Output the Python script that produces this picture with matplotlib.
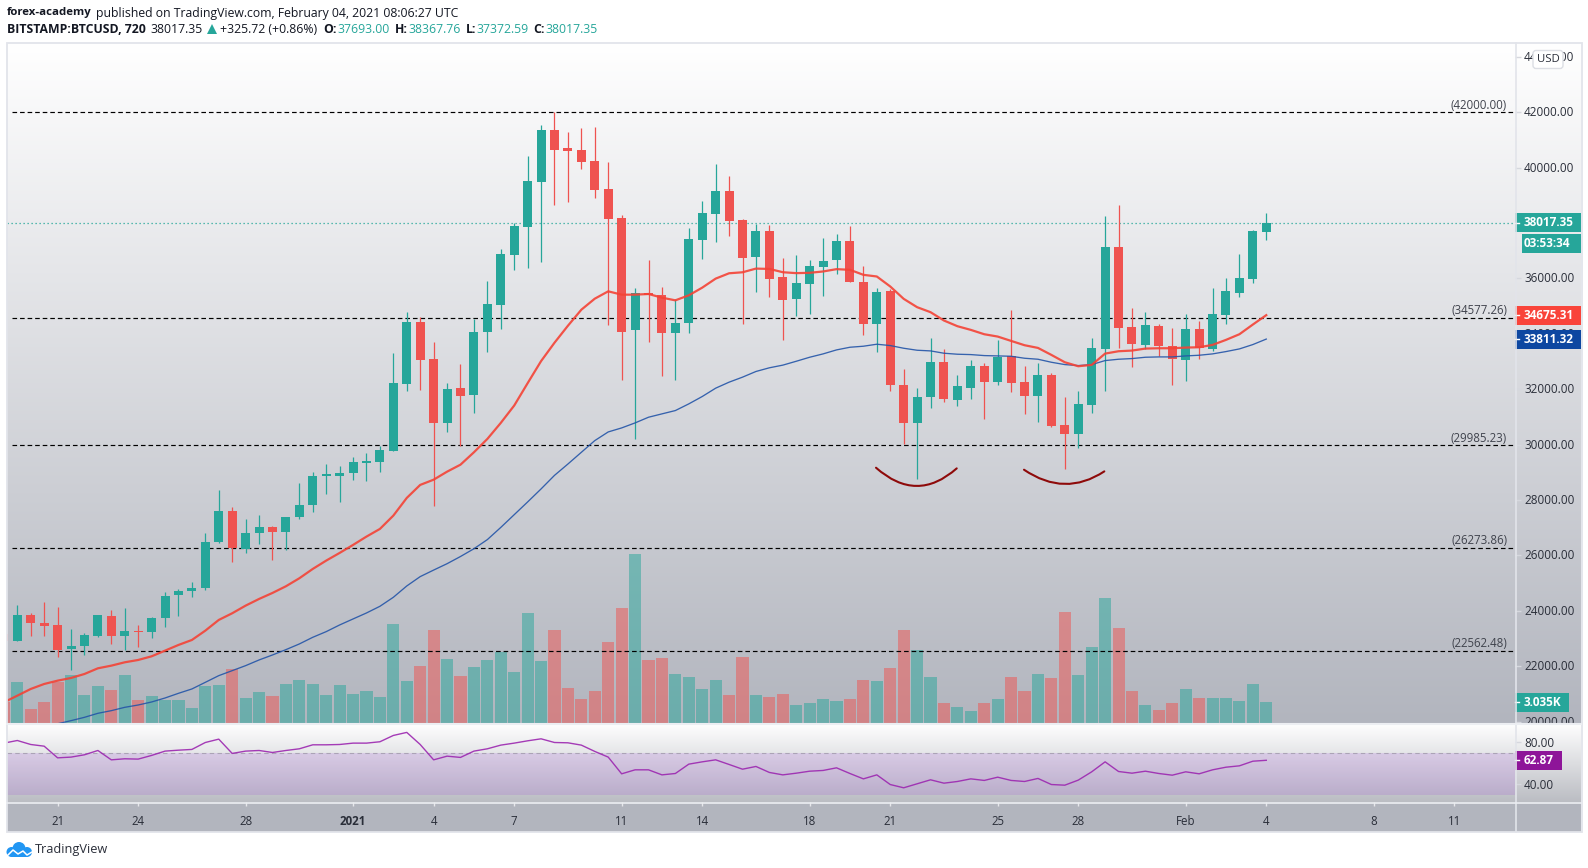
#!/usr/bin/env python3

import numpy as np
import matplotlib
matplotlib.use("Agg")
import matplotlib.pyplot as plt
from matplotlib.patches import Rectangle, Circle, FancyBboxPatch, PathPatch
from matplotlib.path import Path
from matplotlib.transforms import blended_transform_factory, ScaledTranslation

W, H = 1588, 868
plt.rcParams['font.family'] = ['Open Sans', 'DejaVu Sans']

# candles, 12h each, first one is the cut off one at the left edge
opens = [23175, 22898, 23861, 23572, 23500, 22634, 22742, 23103, 23825, 23079, 23235, 23223, 23729, 24560, 24704, 24812,
         26474, 27618, 26221, 26799, 27040, 26835, 27377, 27810, 28882, 28882, 28990, 29352, 29388, 29785, 32205, 34444,
         33075, 30772, 32062, 31809, 34052, 35029, 36838, 37851, 39479, 41361, 40709, 40637, 40239, 39226, 38177, 34125,
         35463, 35391, 34016, 34378, 37381, 38322, 39154, 38104, 36766, 37706, 36035, 35276, 35782, 36396, 36650, 37336,
         35890, 34372, 35529, 32167, 30793, 31733, 32998, 31625, 32059, 32854, 32275, 33215, 32275, 31769, 32528, 30721,
         30395, 31444, 33468, 37119, 34264, 33613, 34300, 33577, 33071, 34191, 33468, 34697, 35457, 35963, 37693.00]
highs = [23400, 24223, 23910, 24331, 24150, 23356, 23187, 23861, 24042, 24114, 23500, 23789, 24692, 24800, 25053, 26823,
         28376, 27762, 27329, 27473, 27076, 27401, 28629, 29027, 29315, 29243, 29568, 29713, 29966, 33325, 34806, 34625,
         33690, 32243, 32895, 34523, 35897, 37055, 37996, 40420, 41541, 42000, 41288, 41433, 41469, 40203, 38285, 35644,
         36657, 35680, 35246, 37815, 38792, 40130, 39696, 38141, 37960, 37924, 36722, 36830, 36650, 37445, 37589, 37879,
         36433, 35673, 35637, 32745, 32059, 33866, 33468, 32528, 33071, 32962, 33793, 34878, 32854, 32962, 32601, 31733,
         31950, 33866, 38240, 38638, 34950, 34806, 34372, 34227, 34733, 34480, 35673, 36000, 36866, 37734, 38367.76]
lows = [22850, 22898, 23079, 23103, 22320, 21851, 22392, 23043, 22790, 22597, 22681, 23006, 23404, 23801, 24487, 24740,
        26438, 25752, 26077, 26402, 25824, 26185, 27305, 27557, 28208, 27919, 28737, 28701, 29027, 29785, 31952, 31990,
        27780, 30446, 29940, 31134, 33341, 34173, 36295, 36380, 36585, 38647, 38756, 39950, 38900, 34306, 32316, 30217,
        33690, 32460, 32316, 34016, 36693, 37308, 37525, 34342, 35500, 35319, 33794, 34661, 34734, 35384, 36143, 35854,
        33974, 33360, 31950, 30022, 28769, 31335, 31552, 31408, 31661, 30938, 32167, 31914, 31118, 30829, 30649, 29130,
        29889, 31155, 31950, 33504, 32818, 33468, 33215, 32167, 32311, 33107, 33396, 34372, 35348, 35818, 37372.59]
closes = [22922, 23861, 23548, 23464, 22597, 22742, 23139, 23861, 23079, 23283, 23223, 23753, 24548, 24728, 24837, 26498,
          27618, 26269, 26823, 27040, 26835, 27401, 27834, 28882, 28954, 28990, 29388, 29424, 29821, 32241, 34444, 33072,
          30772, 32026, 31773, 34052, 35065, 36874, 37887, 39515, 41361, 40637, 40601, 40203, 39190, 38141, 34052, 35463,
          35391, 34016, 34378, 37417, 38358, 39154, 38068, 36730, 37706, 35970, 35240, 35818, 36433, 36613, 37336, 35890,
          34372, 35493, 32167, 30793, 31733, 32998, 31661, 32131, 32854, 32275, 33179, 32239, 31769, 32528, 30685, 30395,
          31480, 33504, 37119, 34227, 33649, 34336, 33577, 33107, 34191, 33504, 34733, 35529, 36000, 37698, 38017.35]
volumes = [3082, 5796, 2070, 3036, 5796, 6762, 4002, 5244, 4692, 6762, 3312, 3864, 3312, 3312, 2208, 5244,
           5382, 7590, 3588, 4416, 3864, 5520, 6072, 5520, 4002, 5382, 4140, 4554, 3726, 13800, 5934, 8004,
           12972, 8970, 6624, 7866, 8832, 9936, 7176, 15318, 8694, 12972, 4968, 3450, 4554, 11316, 16008, 23460,
           8832, 9108, 6900, 6486, 4830, 6072, 4002, 9246, 4002, 3726, 4140, 2622, 2898, 3450, 3174, 3450,
           6072, 5934, 7728, 12972, 10212, 6486, 2898, 2346, 1794, 2898, 3450, 6486, 4554, 6900, 6348, 15456,
           6762, 10626, 17388, 13248, 4554, 2622, 1932, 2898, 4830, 3588, 3588, 3588, 3174, 5520, 3035]
candle_no = np.arange(-1, 94)

ema_red = [20695, 20935, 21177, 21357, 21477, 21574, 21718, 21923, 22019, 22140, 22224, 22356, 22561, 22766, 22946, 23283,
           23669, 23910, 24186, 24427, 24644, 24885, 25174, 25511, 25812, 26089, 26378, 26679, 26956, 27437, 28075, 28545,
           28734, 29023, 29276, 29723, 30205, 30784, 31411, 32219, 33015, 33679, 34293, 34872, 35270, 35535, 35415, 35415,
           35439, 35306, 35210, 35391, 35668, 35994, 36187, 36223, 36356, 36344, 36225, 36192, 36204, 36252, 36336, 36312,
           36131, 36071, 35710, 35264, 34963, 34782, 34481, 34276, 34143, 33986, 33902, 33745, 33589, 33492, 33239, 32974,
           32830, 32878, 33287, 33372, 33396, 33468, 33480, 33480, 33504, 33516, 33601, 33782, 33986, 34336, 34675.31]
ema_blue = [19920, 20033, 20153, 20298, 20394, 20514, 20598, 20707, 20851, 21020, 21177, 21417, 21658, 21838, 22019, 22224,
            22404, 22597, 22802, 23043, 23247, 23488, 23705, 23921, 24162, 24487, 24896, 25234, 25470, 25700, 25960, 26240,
            26570, 27010, 27470, 27930, 28400, 28890, 29300, 29723, 30145, 30458, 30603, 30784, 30989, 31110, 31230, 31471,
            31737, 32038, 32255, 32436, 32641, 32774, 32870, 33010, 33155, 33276, 33420, 33516, 33553, 33625, 33577, 33480,
            33408, 33384, 33300, 33264, 33251, 33215, 33203, 33191, 33119, 33083, 32974, 32890, 32854, 32890, 33035, 33083,
            33107, 33155, 33167, 33167, 33203, 33227, 33276, 33360, 33456, 33613, 33811.32]
blue_no = np.arange(3, 94)

rsi = [79.2, 81.7, 77.9, 76.3, 65.2, 65.9, 68.1, 72.2, 63.3, 64.3, 64.0, 67.5, 71.6, 72.5, 73.2, 79.8,
       83.0, 69.4, 71.6, 72.2, 70.3, 72.2, 73.8, 77.6, 77.6, 77.9, 79.2, 79.2, 80.5, 86.5, 89.4, 77.9,
       63.3, 66.8, 65.6, 71.6, 73.8, 77.3, 79.2, 81.4, 83.3, 79.8, 79.5, 77.3, 71.3, 65.9, 50.0, 53.8,
       53.8, 49.0, 50.3, 59.2, 61.4, 63.3, 58.9, 54.4, 57.0, 51.3, 49.0, 50.6, 52.5, 53.2, 55.7, 50.3,
       45.2, 49.0, 39.8, 36.7, 40.5, 44.3, 41.1, 42.7, 45.2, 43.7, 46.8, 43.7, 42.7, 45.6, 39.8, 39.2,
       44.0, 51.9, 61.4, 52.2, 50.6, 52.5, 50.3, 48.7, 51.9, 50.0, 53.8, 56.3, 57.6, 62.0, 62.87]

# horizontal levels drawn on the chart
levels = [42000.00, 34577.26, 29985.23, 26273.86, 22562.48]

# the two hand drawn arcs under the lows: start, control, end
arc1 = [(63.94, 29166), (66.97, 27862), (69.95, 29142)]
arc2 = [(74.96, 29094), (78.0, 28094), (80.94, 29034)]

price_ticks = list(range(20000, 46000, 2000))
rsi_ticks = [40, 80]
time_ticks = [3, 9, 17, 25, 31, 37, 45, 51, 59, 65, 73, 79, 87, 93, 101, 107]
time_labels = ['21', '24', '28', '2021', '4', '7', '11', '14', '18', '21', '25', '28', 'Feb', '4', '8', '11']

UP = '#26a69a'
DOWN = '#ef5350'
TXT = '#2a2e39'
LINE = '#e2e4ea'


def px_axes(x0, y0, x1, y1, **kw):
    return fig.add_axes([x0 / W, 1 - y1 / H, (x1 - x0) / W, (y1 - y0) / H], **kw)


def gradient(ax, x0, x1, y0, y1, top, bottom):
    t = np.linspace(0, 1, 256)[:, None, None]
    img = np.array(top) * (1 - t) + np.array(bottom) * t
    ax.imshow(img / 255, extent=[x0, x1, y1, y0], aspect='auto', interpolation='bilinear')


def pane_tag(ax, value, text, color, width_px, pane_h, dy_px=0, x0_px=0, tick=True):
    tr = blended_transform_factory(ax.transAxes, ax.transData)
    y0, y1 = ax.get_ylim()
    per_px = (y1 - y0) / pane_h
    ymid = value - dy_px * per_px
    pw = 1508.0
    ax.add_patch(Rectangle((1 + x0_px / pw, ymid - 9.5 * per_px), width_px / pw, 19 * per_px, transform=tr,
                           facecolor=color, edgecolor='none', clip_on=False, zorder=10))
    if tick:
        ax.plot([1, 1 + 4 / pw], [ymid, ymid], transform=tr, color='white', lw=1, clip_on=False, zorder=11)
    ax.text(1 + 9 / pw, ymid, text, transform=tr, color='white', fontsize=8.5,
            fontweight='bold', va='center', ha='left', clip_on=False, zorder=11)


fig = plt.figure(figsize=(W / 100, H / 100), dpi=100, facecolor='white')
label_up = ScaledTranslation(0, 1 / 100, fig.dpi_scale_trans)

# backgrounds, in pixels
ax_bg = fig.add_axes([0, 0, 1, 1], zorder=0)
gradient(ax_bg, 7, 1581, 43, 724, (255, 255, 255), (178, 181, 190))
ax_bg.set_xlim(0, W)
ax_bg.set_ylim(H, 0)
ax_bg.axis('off')

# volume sits under the candles
ax_vol = px_axes(7, 43, 1515, 724, zorder=1)
ax_vol.patch.set_visible(False)
for sp in ax_vol.spines.values():
    sp.set_visible(False)
ax_vol.set_xticks([])
ax_vol.set_yticks([])
ax_vol.set_xlim(-0.767, 111.52)
ax_vol.set_ylim(0, 94000)
bar_colors = [UP if c >= o else DOWN for o, c in zip(opens, closes)]
ax_vol.bar(candle_no, volumes, width=0.9, color=bar_colors, alpha=0.5, linewidth=0)
pane_tag(ax_vol, 3035, '3.035K', UP, 54, 681, dy_px=0)

ax = px_axes(7, 43, 1515, 724, zorder=2)
ax.patch.set_visible(False)
for sp in ax.spines.values():
    sp.set_visible(False)
ax.set_xlim(-0.767, 111.52)
ax.set_ylim(19912, 44502)

up_mask = np.array(closes) >= np.array(opens)
wick_colors = [UP if u else DOWN for u in up_mask]
ax.vlines(candle_no, lows, highs, colors=wick_colors, linewidth=0.9, zorder=3)
body_bottom = np.minimum(opens, closes)
body_height = np.maximum(np.abs(np.array(closes) - np.array(opens)), 40)
ax.bar(candle_no, body_height, bottom=body_bottom, width=0.67, color=wick_colors, linewidth=0, zorder=4)

ax.plot(candle_no, ema_red, color='#f44336', lw=1.6, alpha=0.9, zorder=6, solid_joinstyle='round')
ax.plot(blue_no, ema_blue, color='#2455a8', lw=0.95, alpha=0.9, zorder=5, solid_joinstyle='round')

for lvl in levels:
    ax.plot([-0.39, 111.52], [lvl, lvl], color='black', lw=0.85, dashes=(3.9, 2.5), zorder=2)
    ax.annotate("(%.2f)" % lvl, xy=(0.9947, lvl), xycoords=ax.get_yaxis_transform(), xytext=(0, 7),
                textcoords='offset pixels', ha='right', va='center', fontsize=8.3, color='#40434d')
ax.axhline(38017.35, color=UP, lw=0.9, dashes=(1, 2.2), zorder=2)

codes = [Path.MOVETO, Path.CURVE3, Path.CURVE3]
for arc in (arc1, arc2):
    ax.add_patch(PathPatch(Path(arc, codes), fill=False, edgecolor='#8e0a0a', lw=1.5, zorder=7, capstyle='round'))

ax.yaxis.tick_right()
ax.set_yticks(price_ticks)
ax.set_yticklabels(["%.2f" % t for t in price_ticks])
ax.set_xticks([])
ax.tick_params(axis='y', length=4, width=1, color='#d6d8de', labelcolor=TXT, labelsize=8.5, pad=2.5)
for lab in ax.get_yticklabels():
    lab.set_transform(lab.get_transform() + label_up)

pane_tag(ax, 38017.35, '38017.35', UP, 66, 681)
pane_tag(ax, 38017.35, '03:53:34', UP, 59, 681, dy_px=20.5, x0_px=7, tick=False)
pane_tag(ax, 34675.31, '34675.31', '#f9443a', 66, 681)
pane_tag(ax, 33811.32, '33811.32', '#0d47a1', 66, 681)

# rsi pane and time axis, these cover the bottom of the price labels
ax_low = px_axes(7, 724, 1581, 832, zorder=3)
gradient(ax_low, 7, 1581, 724, 802, (255, 255, 255), (187, 189, 195))
ax_low.add_patch(Rectangle((7, 802), 1574, 30, facecolor='#b2b5be', edgecolor='none', zorder=2))
ax_low.set_xlim(7, 1581)
ax_low.set_ylim(832, 724)
ax_low.axis('off')

ax_rsi = px_axes(7, 724, 1515, 802.3, zorder=4)
ax_rsi.patch.set_visible(False)
for sp in ax_rsi.spines.values():
    sp.set_visible(False)
ax_rsi.set_xlim(-0.767, 111.52)
ax_rsi.set_ylim(22.9, 97.4)
ax_rsi.axhspan(30, 70, facecolor=(155 / 255, 70 / 255, 215 / 255), alpha=0.17, linewidth=0)
ax_rsi.axhline(70, color='#8f8a98', lw=0.8, dashes=(4, 3), alpha=0.6)
ax_rsi.plot(candle_no, rsi, color='#9c27b0', lw=1.0, alpha=0.9)
ax_rsi.yaxis.tick_right()
ax_rsi.set_yticks(rsi_ticks)
ax_rsi.set_yticklabels(["%.2f" % t for t in rsi_ticks])
ax_rsi.set_xticks(time_ticks)
ax_rsi.set_xticklabels(time_labels)
ax_rsi.get_xticklabels()[3].set_fontweight('bold')
ax_rsi.tick_params(axis='y', length=4, width=1, color='#d6d8de', labelcolor=TXT, labelsize=8.5, pad=2.5)
ax_rsi.tick_params(axis='x', length=3, width=1, color='#e6e7eb', labelcolor=TXT, labelsize=8.3, pad=6)
pane_tag(ax_rsi, 62.87, '62.87', '#8e1599', 47, 78.3)

# borders, header, logo on top
ax_top = fig.add_axes([0, 0, 1, 1], zorder=5)
ax_top.patch.set_visible(False)
ax_top.set_xlim(0, W)
ax_top.set_ylim(H, 0)
ax_top.axis('off')
ax_top.add_patch(Rectangle((6.5, 43), 1575, 788.5, fill=False, edgecolor=LINE, lw=1.3))
ax_top.plot([1515.5, 1515.5], [43, 832], color=LINE, lw=1.2)
ax_top.plot([7, 1581], [724, 724], color='#eceef2', lw=1.5)
ax_top.plot([7, 1581], [802.5, 802.5], color='#eceef2', lw=1.2)

ax_top.add_patch(FancyBboxPatch((1533, 50.5), 30, 18, boxstyle='round,pad=0,rounding_size=3',
                                facecolor='white', edgecolor='#dcdee4', lw=1))
ax_top.text(1548, 59, 'USD', ha='center', va='center', fontsize=8.2, color=TXT)

ax_top.text(6.7, 13, 'forex-academy', fontsize=8.2, fontweight='bold', color='#131722', va='center')
ax_top.text(96.4, 13, 'published on TradingView.com, February 04, 2021 08:06:27 UTC', fontsize=8.8, color='#131722', va='center')
ax_top.text(6.7, 29.5, 'BITSTAMP:BTCUSD, 720', fontsize=8.8, fontweight='bold', color='#131722', va='center')
ax_top.text(150, 29.5, '38017.35', fontsize=8.8, color='#131722', va='center')
ax_top.plot([211.5], [29], marker='^', ms=7, color=UP, mew=0)
ax_top.text(220.5, 29.5, '+325.72 (+0.86%)', fontsize=8.8, color='#131722', va='center')
for lab, lx, val, vx in [('O:', 323.3, '37693.00', 337), ('H:', 394.5, '38367.76', 408),
                         ('L:', 465.6, '37372.59', 476), ('C:', 533.6, '38017.35', 545.5)]:
    ax_top.text(lx, 29.5, lab, fontsize=8.8, fontweight='bold', color='#131722', va='center')
    ax_top.text(vx, 29.5, val, fontsize=8.8, color=UP, va='center')

# cloud logo
blue = '#2196f3'
for cx, cy, r in [(11.5, 852, 5), (19, 848.5, 6.5), (27, 852, 5)]:
    ax_top.add_patch(Circle((cx, cy), r, facecolor=blue, edgecolor='none'))
ax_top.add_patch(Rectangle((11, 850), 16, 7, facecolor=blue, edgecolor='none'))
ax_top.plot([7, 13, 18, 23, 27, 32], [856, 850, 854, 851, 855, 852], color='white', lw=1.1)
ax_top.text(34.4, 849.5, 'TradingView', fontsize=9.2, color='#2a2e39', va='center')

fig.savefig("out.png", dpi=100)
